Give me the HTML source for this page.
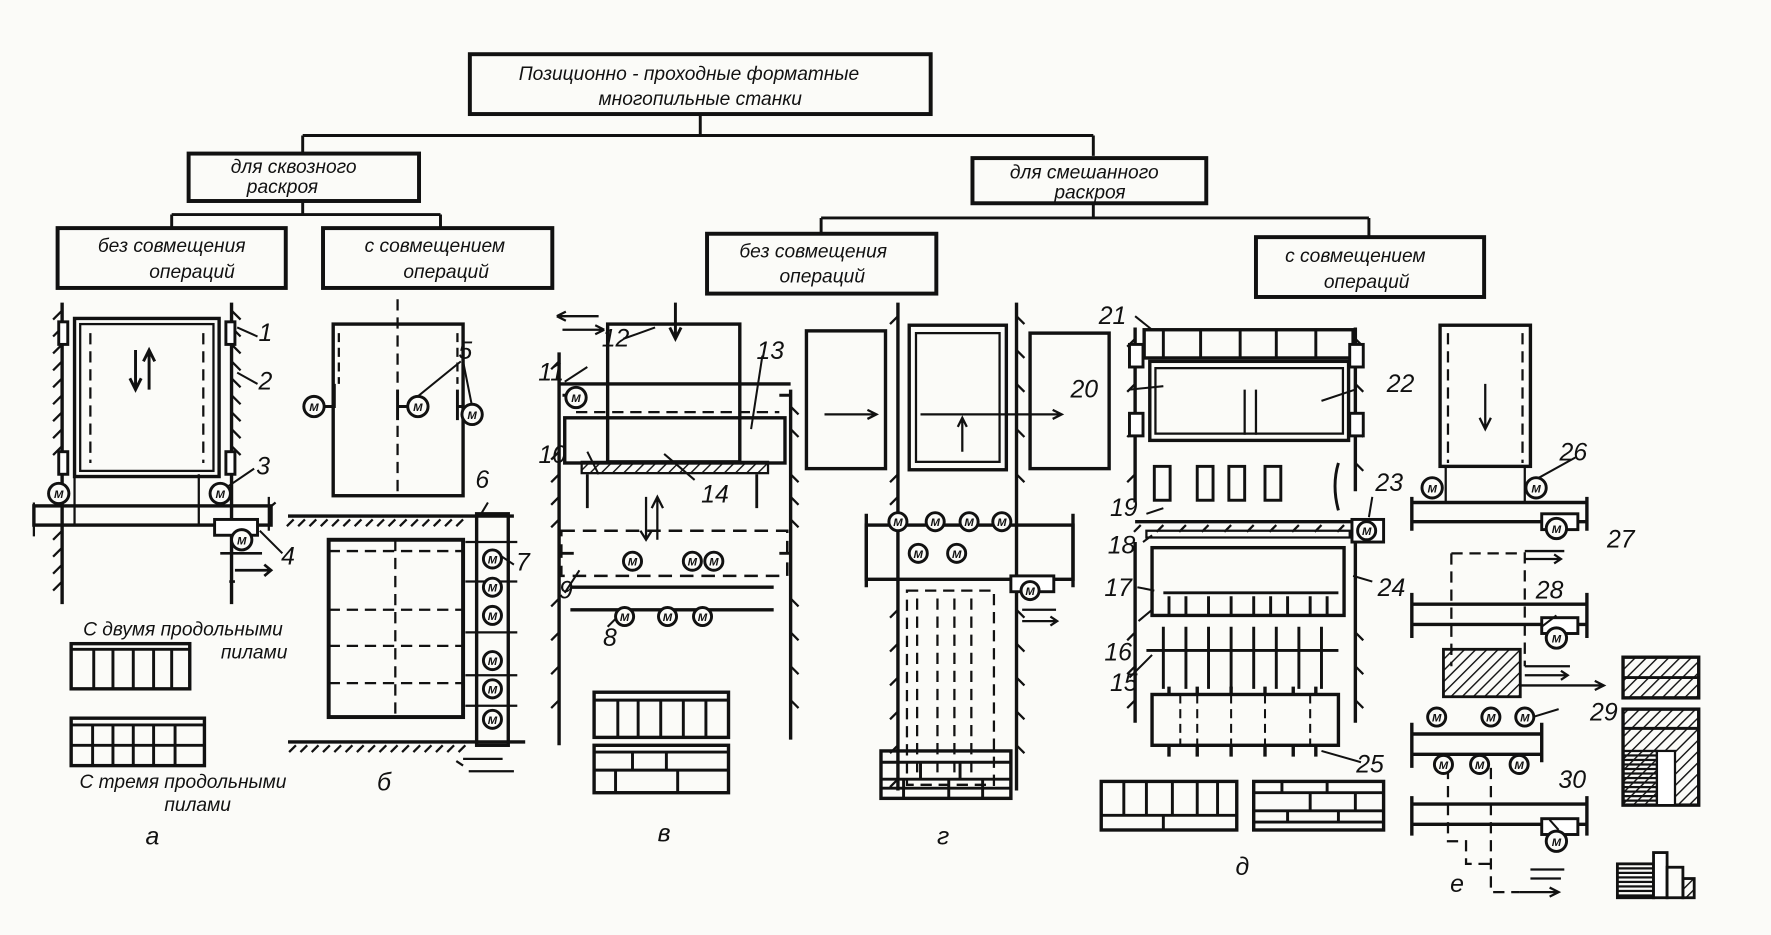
<!DOCTYPE html>
<html><head><meta charset="utf-8"><style>
html,body{margin:0;padding:0;background:#fbfbf8;}
svg{display:block;}
text{font-family:"Liberation Sans","DejaVu Sans",sans-serif;font-style:italic;fill:#111;}
.t{font-size:17px;}
.n{font-size:22px;}
.m{font-size:10px;font-style:normal;font-weight:bold;}
</style></head><body>
<svg width="1771" height="935" viewBox="0 0 1568 828" preserveAspectRatio="none" xmlns="http://www.w3.org/2000/svg">
<defs>
<pattern id="h" width="7" height="7" patternUnits="userSpaceOnUse" patternTransform="rotate(45)"><line x1="0" y1="0" x2="0" y2="7" stroke="#111" stroke-width="2.5"/></pattern>
<pattern id="v" width="4" height="4" patternUnits="userSpaceOnUse"><line x1="0" y1="1" x2="4" y2="1" stroke="#111" stroke-width="2"/></pattern>
</defs>
<g stroke="#111" fill="none" stroke-width="2.6">
<!-- tree -->
<rect x="416" y="48" width="408" height="53" stroke-width="3.5"/>
<path d="M620 101V120M268 120H968M268 120V135M968 120V138"/>
<rect x="167" y="136" width="204" height="42" stroke-width="3.5"/>
<rect x="861" y="140" width="207" height="40" stroke-width="3.5"/>
<path d="M268 178V190M152 190H390M152 190V202M390 190V202"/>
<path d="M968 180V193M727 193H1212M727 193V207M1212 193V210"/>
<rect x="51" y="202" width="202" height="53" stroke-width="3.5"/>
<rect x="286" y="202" width="203" height="53" stroke-width="3.5"/>
<rect x="626" y="207" width="203" height="53" stroke-width="3.5"/>
<rect x="1112" y="210" width="202" height="53" stroke-width="3.5"/>

<!-- section a -->
<path d="M55 268V535M205 268V535" stroke-width="3"/>
<path d="M55 275l-8 8M55 290l-8 8M55 305l-8 8M55 320l-8 8M55 335l-8 8M55 350l-8 8M55 365l-8 8M55 380l-8 8M55 395l-8 8M55 470l-8 8M55 485l-8 8M55 500l-8 8M55 515l-8 8M205 275l8 8M205 290l8 8M205 305l8 8M205 320l8 8M205 335l8 8M205 350l8 8M205 365l8 8M205 380l8 8M205 395l8 8" stroke-width="2"/>
<rect x="52" y="285" width="8" height="20" fill="#fff"/><rect x="200" y="285" width="8" height="20" fill="#fff"/>
<rect x="52" y="400" width="8" height="20" fill="#fff"/><rect x="200" y="400" width="8" height="20" fill="#fff"/>
<rect x="66" y="282" width="128" height="140" stroke-width="3"/>
<rect x="71" y="287" width="118" height="130" stroke-width="2"/>
<path d="M80 295V410M180 295V410" stroke-dasharray="10 6" stroke-width="2"/>
<path d="M120 310V345M115 335l5 10 5-10M132 345V310M127 320l5-10 5 10"/>
<rect x="30" y="448" width="210" height="17" stroke-width="3"/>
<path d="M66 422V465M176 420V465" stroke-width="2"/>
<path d="M238 440V470M238 450l6-5M30 445v30" stroke-width="2"/>
<rect x="190" y="460" width="38" height="14" fill="#fff"/>
<path d="M205 480V530M195 490H232M208 505H240M234 500l6 5-6 5M208 515l-5 0" stroke-width="2.4"/>

<!-- mini grids -->
<rect x="63" y="570" width="105" height="40" stroke-width="3"/>
<path d="M63 575H168M83 575V610M100 575V610M118 575V610M136 575V610M152 575V610"/>
<rect x="63" y="636" width="118" height="42" stroke-width="3"/>
<path d="M63 642H181M63 660H181M82 642V678M100 642V678M118 642V678M136 642V678M155 642V678"/>

<!-- section б -->
<rect x="295" y="287" width="115" height="152" stroke-width="3"/>
<path d="M352 265V440" stroke-dasharray="10 6" stroke-width="2"/>
<path d="M300 295V340M405 295V340" stroke-dasharray="8 5" stroke-width="2"/>
<path d="M296 340V360H287M352 345V372M352 360H362M405 345V372M405 360H410" />
<path d="M255 457H455" stroke-width="3"/>
<path d="M260 460l-6 6M270 460l-6 6M280 460l-6 6M290 460l-6 6M300 460l-6 6M310 460l-6 6M320 460l-6 6M330 460l-6 6M340 460l-6 6M350 460l-6 6M360 460l-6 6M370 460l-6 6M380 460l-6 6M390 460l-6 6M400 460l-6 6M410 460l-6 6" stroke-width="2"/>
<rect x="291" y="478" width="119" height="157" stroke-width="3.5"/>
<path d="M291 488H410M291 540H410M291 572H410M291 605H410M350 478V635" stroke-dasharray="10 6" stroke-width="2"/>
<rect x="422" y="455" width="28" height="205" stroke-width="3"/>
<path d="M412 480H458M412 515H458M412 560H458M412 598H458M412 625H458" stroke-width="2"/>
<path d="M255 657H465" stroke-width="3"/>
<path d="M262 660l-6 6M272 660l-6 6M282 660l-6 6M292 660l-6 6M302 660l-6 6M312 660l-6 6M322 660l-6 6M332 660l-6 6M342 660l-6 6M352 660l-6 6M362 660l-6 6M372 660l-6 6M382 660l-6 6M392 660l-6 6M402 660l-6 6M412 660l-6 6" stroke-width="2"/>
<path d="M410 672H445M410 678l-6-4M455 683H415" stroke-width="2"/>

<!-- section в -->
<rect x="538" y="287" width="117" height="122" stroke-width="3"/>
<path d="M598 268V300M593 290l5 10 5-10"/>
<path d="M495 340H700" stroke-width="3"/>
<path d="M495 312V660M700 345V655" stroke-width="3"/>
<path d="M495 320l-7 7M495 400l-7 7M495 420l-7 7M495 440l-7 7M495 460l-7 7M495 530l-7 7M495 560l-7 7M495 590l-7 7M495 620l-7 7M700 360l7 7M700 380l7 7M700 420l7 7M700 440l7 7M700 460l7 7M700 530l7 7M700 560l7 7M700 590l7 7M700 620l7 7" stroke-width="2"/>
<rect x="500" y="370" width="195" height="40" stroke-width="3"/>
<path d="M510 365H690" stroke-dasharray="10 6" stroke-width="2"/>
<rect x="515" y="409" width="165" height="10" fill="url(#h)" stroke-width="2"/>
<path d="M520 420V450M670 420V450" stroke-width="2.5"/>
<path d="M497 470H697V510H497Z" stroke-dasharray="12 7" stroke-width="2.2"/>
<path d="M505 520H685" stroke-width="3"/>
<path d="M505 540H685" stroke-width="3"/>
<path d="M572 440V478M567 470l5 8 5-8M582 478V440M577 450l5-10 5 10" stroke-width="2"/>
<path d="M498 350h10M498 490h10M690 350h10M690 490h10"/>
<rect x="526" y="613" width="119" height="40" stroke-width="3"/>
<path d="M526 620H645M547 620V653M565 620V653M585 620V653M605 620V653M625 620V653"/>
<rect x="526" y="660" width="119" height="42" stroke-width="3"/>
<path d="M526 666H645M526 682H645M560 666V682M590 666V682M545 682V702M600 682V702"/>
<path d="M493 280H530M493 280l8-4M493 280l8 4M498 292H535M535 292l-8-4M535 292l-8 4" stroke-width="2"/>

<!-- section г -->
<rect x="714" y="293" width="70" height="122" stroke-width="3"/>
<rect x="805" y="288" width="86" height="128" stroke-width="3"/>
<rect x="811" y="295" width="74" height="114" stroke-width="2"/>
<rect x="912" y="295" width="70" height="120" stroke-width="3"/>
<path d="M730 367H775M768 363l8 4-8 4M815 367H900M900 367H940M932 363l8 4-8 4M852 400V370M848 378l4-8 4 8" stroke-width="2"/>
<path d="M795 268V700M900 268V700" stroke-width="3"/>
<path d="M795 280l-7 7M795 420l-7 7M795 440l-7 7M795 540l-7 7M795 570l-7 7M795 600l-7 7M795 630l-7 7M795 660l-7 7M795 690l-7 7M900 280l7 7M900 310l7 7M900 340l7 7M900 380l7 7M900 420l7 7M900 540l7 7M900 570l7 7M900 600l7 7M900 630l7 7M900 660l7 7" stroke-width="2"/>
<rect x="767" y="465" width="183" height="48" stroke-width="3"/>
<path d="M767 455V520M950 455V520" stroke-width="3"/>
<path d="M803 523H880V695H803Z M812 530V690M830 530V690M845 530V690M860 530V690" stroke-dasharray="10 6" stroke-width="2"/>
<rect x="895" y="510" width="38" height="14" fill="#fff"/>
<path d="M905 540H935M905 550H935M930 546l6 4-6 4" stroke-width="2"/>
<rect x="780" y="665" width="115" height="42" stroke-width="3"/>
<path d="M780 675H895M780 690H895M780 698H895M815 675V690M850 675V690M800 690V707M840 690V707M870 690V707"/>

<!-- section д -->
<rect x="1013" y="292" width="185" height="25" stroke-width="3"/>
<path d="M1030 292V317M1063 292V317M1098 292V317M1130 292V317M1165 292V317"/>
<rect x="1018" y="320" width="176" height="70" stroke-width="3"/>
<rect x="1023" y="326" width="166" height="58" stroke-width="2"/>
<path d="M1005 290V445M1200 290V435" stroke-width="3"/>
<path d="M1005 300l-7 7M1005 340l-7 7M1005 380l-7 7M1005 420l-7 7M1200 300l7 7M1200 340l7 7M1200 380l7 7M1200 410l7 7" stroke-width="2"/>
<rect x="1000" y="305" width="12" height="20" fill="#fff"/><rect x="1000" y="366" width="12" height="20" fill="#fff"/>
<rect x="1195" y="305" width="12" height="20" fill="#fff"/><rect x="1195" y="366" width="12" height="20" fill="#fff"/>
<path d="M1102 345V385M1112 385V345" stroke-width="2"/>
<rect x="1022" y="413" width="14" height="30"/><rect x="1060" y="413" width="14" height="30"/><rect x="1088" y="413" width="14" height="30"/><rect x="1120" y="413" width="14" height="30"/>
<path d="M1185 410q-6 20 0 42"/>
<path d="M1005 462H1200" stroke-width="3"/>
<path d="M1010 465l-6 6M1030 465l-6 6M1050 465l-6 6M1070 465l-6 6M1090 465l-6 6M1110 465l-6 6M1130 465l-6 6M1150 465l-6 6M1170 465l-6 6M1190 465l-6 6" stroke-width="2"/>
<rect x="1015" y="470" width="180" height="6" stroke-width="2"/>
<rect x="1020" y="485" width="170" height="60" stroke-width="3"/>
<path d="M1030 525H1185M1035 528V545M1050 528V545M1070 528V545M1090 528V545M1110 528V545M1125 528V545M1140 528V545M1160 528V545M1175 528V545"/>
<path d="M1005 480V640M1200 480V640" stroke-width="3"/>
<path d="M1005 560l-7 7M1005 590l-7 7M1005 620l-7 7M1200 560l7 7M1200 590l7 7M1200 620l7 7" stroke-width="2"/>
<path d="M1015 576H1185M1030 555V610M1050 555V610M1070 555V610M1090 555V610M1110 555V610M1130 555V610M1150 555V610M1170 555V610"/>
<rect x="1020" y="615" width="165" height="45" stroke-width="3"/>
<path d="M1045 615V660M1060 615V660M1090 615V660M1120 615V660M1160 615V660" stroke-dasharray="8 5" stroke-width="1.8"/>
<path d="M1035 608V615M1060 608V615M1090 608V615M1120 608V615M1145 608V615M1165 608V615M1035 660V670M1060 660V670M1090 660V670M1120 660V670M1145 660V670M1165 660V670" stroke-width="3"/>
<rect x="975" y="692" width="120" height="43" stroke-width="3"/>
<path d="M975 722H1095M995 692V722M1015 692V722M1038 692V722M1060 692V722M1078 692V722M1030 722V735"/>
<rect x="1110" y="692" width="115" height="43" stroke-width="3"/>
<path d="M1110 702H1225M1110 718H1225M1110 728H1225M1135 692V702M1175 692V702M1160 702V718M1200 702V718M1140 718V728M1185 718V728"/>
<rect x="1197" y="460" width="28" height="20" fill="#fff"/>

<!-- section е -->
<rect x="1275" y="288" width="80" height="125" stroke-width="3"/>
<path d="M1282 295V410M1348 295V410" stroke-dasharray="10 6" stroke-width="2"/>
<path d="M1315 340V380M1310 370l5 10 5-10" stroke-width="2"/>
<path d="M1280 413V445M1350 413V445" stroke-width="2"/>
<path d="M1250 445H1405M1250 462H1405M1250 440V470M1405 440V470" stroke-width="3"/>
<rect x="1365" y="455" width="32" height="14" fill="#fff"/>
<path d="M1350 488H1385M1350 495H1382M1376 491l6 4-6 4" stroke-width="2"/>
<path d="M1285 490H1350V590M1285 490V590" stroke-dasharray="10 6" stroke-width="2"/>
<path d="M1250 535H1405M1250 553H1405M1250 525V565M1405 525V565" stroke-width="3"/>
<rect x="1365" y="547" width="32" height="14" fill="#fff"/>
<path d="M1350 590H1390M1350 598H1388M1382 594l6 4-6 4" stroke-width="2"/>
<rect x="1278" y="575" width="68" height="42" fill="url(#h)" stroke-width="2.5"/>
<path d="M1346 607H1420M1412 603l8 4-8 4" stroke-width="2"/>
<path d="M1250 650H1365M1250 668H1365M1250 640V680M1365 640V675" stroke-width="3"/>
<path d="M1250 712H1405M1250 730H1405M1250 705V740M1405 705V740" stroke-width="3"/>
<rect x="1365" y="725" width="32" height="14" fill="#fff"/>
<path d="M1282 680V745H1298V765H1325M1320 680V790H1345" stroke-dasharray="10 6" stroke-width="2"/>
<path d="M1345 790H1380M1372 786l8 4-8 4M1355 770H1385M1355 778H1382" stroke-width="2"/>
<rect x="1437" y="582" width="67" height="36" fill="url(#h)" stroke-width="3"/>
<path d="M1437 600H1504"/>
<rect x="1437" y="628" width="67" height="85" fill="url(#h)" stroke-width="3"/>
<rect x="1437" y="665" width="30" height="48" fill="url(#v)" stroke-width="2"/>
<rect x="1467" y="665" width="16" height="48" fill="#fff" stroke-width="2"/>
<path d="M1437 645H1504"/>
<rect x="1432" y="765" width="32" height="30" fill="url(#v)" stroke-width="2.5"/>
<rect x="1464" y="755" width="12" height="40" fill="#fff" stroke-width="2.5"/>
<rect x="1476" y="768" width="14" height="27" stroke-width="2.5"/>
<rect x="1490" y="778" width="10" height="17" fill="url(#h)" stroke-width="2.5"/>

<!-- label leaders -->
<path d="M210 290L228 298M210 330L228 340M200 432L225 415M230 470L250 490M365 355L408 320M418 360L410 320M426 455L432 445M440 490L455 500M520 325L500 338M520 400L530 420M580 290L552 300M675 315L665 380M588 402L615 425M513 505L500 525M538 555L548 545M1005 280L1020 292M1000 345L1030 342M1200 345L1170 355M1030 450L1015 455M1012 480L1020 474M1007 520L1022 523M1020 540L1008 550M1020 580L1000 600M1170 665L1205 675M1215 440L1212 458M1215 515L1198 510M1395 405L1350 430M1375 475L1385 465M1365 555L1378 545M1380 628L1357 635M1380 735L1372 726" stroke-width="1.8"/>
</g>

<!-- motors -->
<g stroke="#111" stroke-width="2.6" fill="#fbfbf8">
<circle cx="52" cy="437" r="9"/><circle cx="195" cy="437" r="9"/><circle cx="214" cy="478" r="9"/>
<circle cx="278" cy="360" r="9"/><circle cx="370" cy="360" r="9"/><circle cx="418" cy="367" r="9"/>
<circle cx="436" cy="495" r="8"/><circle cx="436" cy="520" r="8"/><circle cx="436" cy="545" r="8"/><circle cx="436" cy="585" r="8"/><circle cx="436" cy="610" r="8"/><circle cx="436" cy="637" r="8"/>
<circle cx="510" cy="352" r="9"/>
<circle cx="560" cy="497" r="8"/><circle cx="613" cy="497" r="8"/><circle cx="632" cy="497" r="8"/>
<circle cx="553" cy="546" r="8"/><circle cx="591" cy="546" r="8"/><circle cx="622" cy="546" r="8"/>
<circle cx="795" cy="462" r="8"/><circle cx="828" cy="462" r="8"/><circle cx="858" cy="462" r="8"/><circle cx="887" cy="462" r="8"/>
<circle cx="813" cy="490" r="8"/><circle cx="847" cy="490" r="8"/><circle cx="912" cy="523" r="8"/>
<circle cx="1210" cy="470" r="8"/>
<circle cx="1268" cy="432" r="9"/><circle cx="1360" cy="432" r="9"/><circle cx="1378" cy="468" r="9"/><circle cx="1378" cy="565" r="9"/>
<circle cx="1272" cy="635" r="8"/><circle cx="1320" cy="635" r="8"/><circle cx="1350" cy="635" r="8"/>
<circle cx="1278" cy="677" r="8"/><circle cx="1310" cy="677" r="8"/><circle cx="1345" cy="677" r="8"/>
<circle cx="1378" cy="745" r="9"/>
</g>
<g class="m" text-anchor="middle">
<text x="52" y="441">M</text><text x="195" y="441">M</text><text x="214" y="482">M</text>
<text x="278" y="364">M</text><text x="370" y="364">M</text><text x="418" y="371">M</text>
<text x="436" y="499">M</text><text x="436" y="524">M</text><text x="436" y="549">M</text><text x="436" y="589">M</text><text x="436" y="614">M</text><text x="436" y="641">M</text>
<text x="510" y="356">M</text><text x="560" y="501">M</text><text x="613" y="501">M</text><text x="632" y="501">M</text>
<text x="553" y="550">M</text><text x="591" y="550">M</text><text x="622" y="550">M</text>
<text x="795" y="466">M</text><text x="828" y="466">M</text><text x="858" y="466">M</text><text x="887" y="466">M</text>
<text x="813" y="494">M</text><text x="847" y="494">M</text><text x="912" y="527">M</text><text x="1210" y="474">M</text>
<text x="1268" y="436">M</text><text x="1360" y="436">M</text><text x="1378" y="472">M</text><text x="1378" y="569">M</text>
<text x="1272" y="639">M</text><text x="1320" y="639">M</text><text x="1350" y="639">M</text>
<text x="1278" y="681">M</text><text x="1310" y="681">M</text><text x="1345" y="681">M</text><text x="1378" y="749">M</text>
</g>

<!-- texts -->
<g class="t" text-anchor="middle">
<text x="610" y="71">Позиционно - проходные форматные</text>
<text x="620" y="93">многопильные станки</text>
<text x="260" y="153">для сквозного</text><text x="250" y="171">раскроя</text>
<text x="960" y="158">для смешанного</text><text x="965" y="176">раскроя</text>
<text x="152" y="223">без совмещения</text><text x="170" y="246">операций</text>
<text x="385" y="223">с совмещением</text><text x="395" y="246">операций</text>
<text x="720" y="228">без совмещения</text><text x="728" y="250">операций</text>
<text x="1200" y="232">с совмещением</text><text x="1210" y="255">операций</text>
<text x="162" y="563">С двумя продольными</text><text x="225" y="583">пилами</text>
<text x="162" y="698">С тремя продольными</text><text x="175" y="718">пилами</text>
</g>
<g class="n" text-anchor="middle">
<text x="235" y="302">1</text><text x="235" y="345">2</text><text x="233" y="420">3</text><text x="255" y="500">4</text>
<text x="412" y="318">5</text><text x="427" y="432">6</text><text x="463" y="505">7</text>
<text x="545" y="307">12</text><text x="682" y="318">13</text><text x="488" y="337">11</text><text x="489" y="410">10</text>
<text x="633" y="445">14</text><text x="501" y="530">9</text><text x="540" y="572">8</text>
<text x="985" y="287">21</text><text x="960" y="352">20</text><text x="1240" y="347">22</text>
<text x="995" y="457">19</text><text x="993" y="490">18</text><text x="990" y="528">17</text><text x="990" y="585">16</text><text x="995" y="612">15</text>
<text x="1230" y="435">23</text><text x="1232" y="528">24</text><text x="1213" y="684">25</text>
<text x="1393" y="408">26</text><text x="1435" y="485">27</text><text x="1372" y="530">28</text><text x="1420" y="638">29</text><text x="1392" y="698">30</text>
<text x="135" y="748">а</text><text x="340" y="700">б</text><text x="588" y="745">в</text><text x="835" y="748">г</text><text x="1100" y="775">д</text><text x="1290" y="790">е</text>
</g>
</svg>
</body></html>
